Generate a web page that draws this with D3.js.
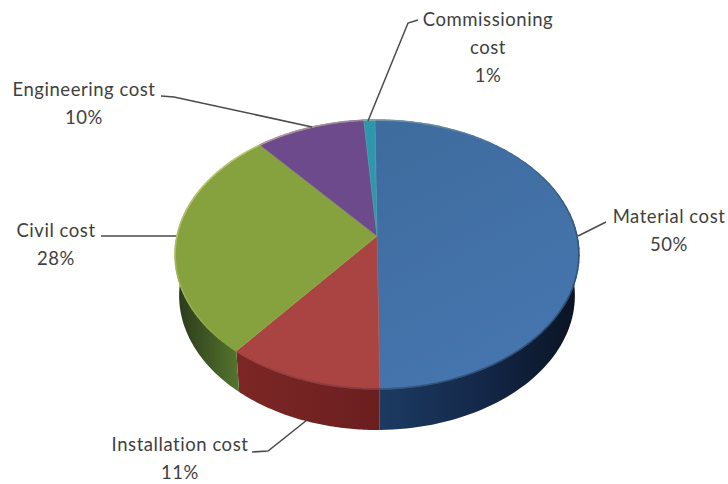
<!DOCTYPE html>
<html>
<head>
<meta charset="utf-8">
<script src="https://cdn.jsdelivr.net/npm/d3@7/dist/d3.min.js"></script>
<style>
html,body{margin:0;padding:0;background:#fff}
svg{display:block}
text{font-family:Lato,"Open Sans",sans-serif;font-size:18.5px;letter-spacing:.55px;fill:#3f3f3f;text-anchor:middle}
</style>
</head>
<body>
<svg id="chart" width="728" height="484"></svg>
<script>
// Project cost breakdown, percent of total, clockwise from twelve o'clock
const categories = ["Material cost", "Installation cost", "Civil cost", "Engineering cost", "Commissioning cost"];
const shares = [50, 11, 28, 10, 1];
const topColors = ["#41709f", "#a94442", "#86a23f", "#6d4a8c", "#2f97ab"];
const sideColors = [["#1c3b62", "#14284a", "#0a1322"], ["#6b1e1e", "#7c2726"], ["#55752f", "#29381a"]];

const svg = d3.select("#chart");
const defs = svg.append("defs");

// Tilted disc: a projective map sends the unit circle to the ellipse on screen,
// which puts the pie's apex above the centre of the ellipse.
const disc = {cx: 377, apexY: 236, spanX: 200, spanY: 99.5, tilt: -0.1375, turn: -0.012};
const depth = {shiftY: 41, shrink: 0.98};

function rimPoint(angle, lower) {
  const u = Math.sin(angle), v = -Math.cos(angle);
  const w = 1 + disc.tilt * v;
  const s = lower ? depth.shrink : 1;
  return [
    disc.cx + s * disc.spanX * u / w,
    (disc.apexY + disc.spanY * v) / w + (lower ? depth.shiftY : 0)
  ];
}
const angleSteps = (a, b) => d3.range(0, 61).map(i => a + (b - a) * i / 60);
const line = d3.line();

const arcs = d3.pie().sort(null)
  .startAngle(disc.turn).endAngle(disc.turn + 2 * Math.PI)(shares);

// Wall of the disc, only where it faces the viewer
const wall = svg.append("g");
const wallSpans = [
  {slice: 0, from: Math.PI / 2 - 0.2, colours: sideColors[0]},
  {slice: 1, from: null, colours: sideColors[1]},
  {slice: 2, to: 3 * Math.PI / 2 + 0.2, colours: sideColors[2]}
];
wallSpans.forEach((span, i) => {
  const a = arcs[span.slice];
  const start = span.from != null ? Math.max(a.startAngle, span.from) : a.startAngle;
  const end = span.to != null ? Math.min(a.endAngle, span.to) : a.endAngle;
  const top = angleSteps(start, end).map(t => rimPoint(t, false));
  const bottom = angleSteps(end, start).map(t => rimPoint(t, true));
  const xs = top.concat(bottom).map(p => p[0]);
  const grad = defs.append("linearGradient")
    .attr("id", "wall" + i)
    .attr("gradientUnits", "userSpaceOnUse")
    .attr("x1", i === 0 ? d3.min(xs) : d3.max(xs)).attr("x2", i === 0 ? d3.max(xs) : d3.min(xs))
    .attr("y1", 0).attr("y2", 0);
  span.colours.forEach((c, k) => grad.append("stop")
    .attr("offset", k / (span.colours.length - 1)).attr("stop-color", c));
  wall.append("path")
    .attr("d", line(top.concat(bottom)) + "Z")
    .attr("fill", `url(#wall${i})`);
});

// Top face
const faceGrad = defs.append("linearGradient")
  .attr("id", "blueFace").attr("x1", 0.2).attr("y1", 0).attr("x2", 0.6).attr("y2", 1);
faceGrad.append("stop").attr("offset", 0).attr("stop-color", "#3f6c9e");
faceGrad.append("stop").attr("offset", 1).attr("stop-color", "#4676b0");

svg.append("g").selectAll("path").data(arcs).join("path")
  .attr("d", a => line([[disc.cx, disc.apexY]].concat(
      angleSteps(a.startAngle, a.endAngle).map(t => rimPoint(t, false)))) + "Z")
  .attr("fill", (a, i) => i === 0 ? "url(#blueFace)" : topColors[i])
  .attr("stroke", (a, i) => d3.interpolateRgb(topColors[i], "#e8e2b0")(0.12))
  .attr("stroke-width", 0.7)
  .attr("stroke-linejoin", "round");

// Bevel along the rim: lit towards the lower left, shaded towards the upper right
const rim = svg.append("g").attr("fill", "none").attr("stroke-width", 1.6).attr("stroke-linecap", "round");
arcs.forEach((a, i) => {
  const steps = angleSteps(a.startAngle, a.endAngle);
  d3.pairs(steps).forEach(([t0, t1]) => {
    const mid = (t0 + t1) / 2;
    const light = Math.sin(mid) * -0.75 + -Math.cos(mid) * -0.66;
    const colour = light > 0
      ? d3.interpolateRgb(topColors[i], "#f1e6a8")(light * 0.5)
      : d3.interpolateRgb(topColors[i], "#14233c")(-light * 0.42);
    rim.append("path")
      .attr("d", line([rimPoint(t0, false), rimPoint(t1, false)]))
      .attr("stroke", colour);
  });
});

// Callouts: leader polyline plus centred label lines
const labelLines = [
  ["Material cost", "50%"],
  ["Installation  cost", "11%"],
  ["Civil cost", "28%"],
  ["Engineering cost", "10%"],
  ["Commissioning", "cost", "1%"]
];
const callouts = [
  {x: 669, y: 223, leader: [[606, 222], [578, 236]]},
  {x: 180, y: 451, leader: [[252, 452], [268, 451], [307, 420]]},
  {x: 56, y: 237, leader: [[101, 236], [176, 236]]},
  {x: 84, y: 96, leader: [[161, 96], [174, 97], [312, 127]]},
  {x: 488, y: 26, leader: [[418, 20], [408, 23], [368, 121]]}
];
const notes = svg.append("g");
callouts.forEach((c, i) => {
  notes.append("path")
    .attr("d", line(c.leader))
    .attr("fill", "none").attr("stroke", "#4a4a4a").attr("stroke-width", 1.5);
  labelLines[i].forEach((t, k) => notes.append("text")
    .attr("x", c.x).attr("y", c.y + k * 28).text(t));
});
</script>
</body>
</html>
